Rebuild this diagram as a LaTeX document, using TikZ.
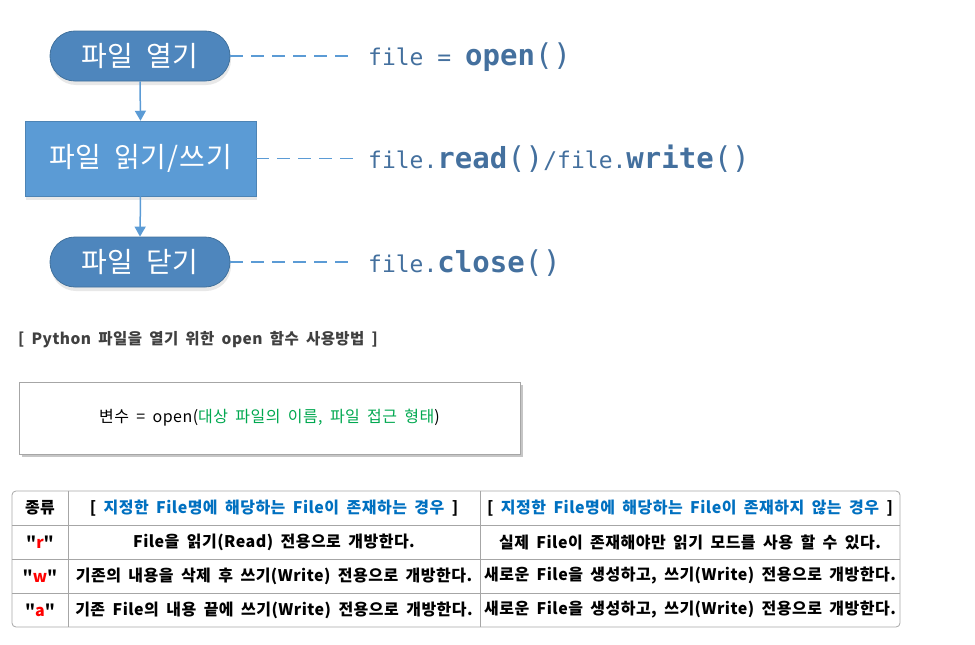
\documentclass[tikz,border=0pt]{standalone}
\usepackage{fontspec}
\usetikzlibrary{shadows,arrows.meta}
\newfontfamily\kr{Noto Sans CJK KR}[WordSpace=1.8, LetterSpace=3]
\newfontfamily\codefont{DejaVu Sans Mono}
\definecolor{pillblue}{HTML}{4E86BD}
\definecolor{pillborder}{HTML}{41719C}
\definecolor{rectblue}{HTML}{5B9BD5}
\definecolor{linkblue}{HTML}{5B9BD5}
\definecolor{codeblue}{HTML}{44709E}
\definecolor{headgray}{HTML}{404040}
\definecolor{argreen}{HTML}{00A850}
\definecolor{thblue}{HTML}{0070C0}
\definecolor{tblline}{HTML}{A6A6A6}
\definecolor{modered}{HTML}{FF0000}
\tikzset{
  pill/.style={rectangle, rounded corners=25pt, minimum width=180pt, minimum height=50pt,
    inner sep=0pt, fill=pillblue, draw=pillborder, line width=0.8pt, text=white,
    font=\kr\fontsize{28}{30}\selectfont,
    drop shadow={opacity=0.18, shadow xshift=1pt, shadow yshift=-4pt}},
  procbox/.style={rectangle, minimum width=231pt, minimum height=75pt, inner sep=0pt,
    fill=rectblue, draw=rectblue!85!black, line width=0.5pt, text=white,
    font=\kr\fontsize{28}{30}\selectfont,
    drop shadow={opacity=0.18, shadow xshift=1pt, shadow yshift=-4pt}},
  flowarrow/.style={draw=linkblue, line width=1.5pt, -{Triangle[length=10pt,width=11pt]}},
  dashlink/.style={draw=linkblue, line width=1.3pt, dash pattern=on 13pt off 8pt},
  codetext/.style={anchor=west, inner xsep=12pt, inner ysep=0pt, text=codeblue},
  cell/.style={font=\kr\bfseries\fontsize{16}{18}\selectfont, inner sep=0pt},
  tbl/.style={draw=tblline, line width=0.8pt},
}
\newcommand{\codereg}[1]{{\codefont\fontsize{23}{26}\selectfont #1}}
\newcommand{\codebold}[1]{{\codefont\bfseries\fontsize{29}{32}\selectfont #1}}
\newcommand{\codeparen}{{\codefont\fontsize{30}{32}\selectfont ()}}
\begin{document}
\begin{tikzpicture}[x=1pt,y=-1pt]
\useasboundingbox (0,0) rectangle (975,645);

% flow chart
\node[pill] (open) at (140,56) {파일 열기};
\node[procbox] (rw) at (140.5,158.5) {파일 읽기/쓰기};
\node[pill] (close) at (140,262) {파일 닫기};
\draw[flowarrow] (open.south) -- (rw.north);
\draw[flowarrow] (rw.south) -- (close.south |- close.north);

% code labels
\node[codetext] (t1) at (356,57) {\codereg{file = }\codebold{open}\codeparen};
\node[codetext] (t2) at (356,159) {\codereg{file.}\codebold{read}\codeparen\codereg{/file.}\codebold{write}\codeparen};
\node[codetext] (t3) at (356,263) {\codereg{file.}\codebold{close}\codeparen};
\draw[dashlink] (open.east) -- (open.east -| t1.west);
\draw[dashlink] (rw.east) -- (rw.east -| t2.west);
\draw[dashlink] (close.east) -- (close.east -| t3.west);

% heading
\node[anchor=west, inner sep=0pt, text=headgray, font=\kr\bfseries\fontsize{15.5}{18}\selectfont]
  (head) at (18,340) {[ Python 파일을 열기 위한 open 함수 사용방법 ]};

% syntax box
\node[rectangle, minimum width=501pt, minimum height=72pt, fill=white, draw=tblline,
  line width=0.8pt, drop shadow={opacity=0.45, shadow xshift=3pt, shadow yshift=-3pt},
  font=\kr\fontsize{16}{18}\selectfont] (syntax) at (269.5,418)
  {변수 = open(\textcolor{argreen}{대상 파일의 이름, 파일 접근 형태})};

% table
\draw[tbl, rounded corners=4pt] (12,491) rectangle (900,627);
\draw[tbl] (68,491) -- (68,627);
\draw[tbl] (480,491) -- (480,627);
\draw[tbl] (12,525) -- (900,525);
\draw[tbl] (12,559) -- (900,559);
\draw[tbl] (12,593) -- (900,593);

\node[cell] (h0) at (40,508) {종류};
\node[cell] (h1) at (274,508) {[ \textcolor{thblue}{지정한 File명에 해당하는 File이 존재하는 경우} ]};
\node[cell] (h2) at (690,508) {[ \textcolor{thblue}{지정한 File명에 해당하는 File이 존재하지 않는 경우} ]};

\node[cell] (m1) at (40,542) {"\textcolor{modered}{r}"};
\node[cell] (m2) at (40,576) {"\textcolor{modered}{w}"};
\node[cell] (m3) at (40,610) {"\textcolor{modered}{a}"};

\node[cell] (r1a) at (274,542) {File을 읽기(Read) 전용으로 개방한다.};
\node[cell] (r2a) at (274,576) {기존의 내용을 삭제 후 쓰기(Write) 전용으로 개방한다.};
\node[cell] (r3a) at (274,610) {기존 File의 내용 끝에 쓰기(Write) 전용으로 개방한다.};

\node[cell] (r1b) at (690,542) {실제 File이 존재해야만 읽기 모드를 사용 할 수 있다.};
\node[cell] (r2b) at (690,576) {새로운 File을 생성하고, 쓰기(Write) 전용으로 개방한다.};
\node[cell] (r3b) at (690,610) {새로운 File을 생성하고, 쓰기(Write) 전용으로 개방한다.};
\end{tikzpicture}
\end{document}
